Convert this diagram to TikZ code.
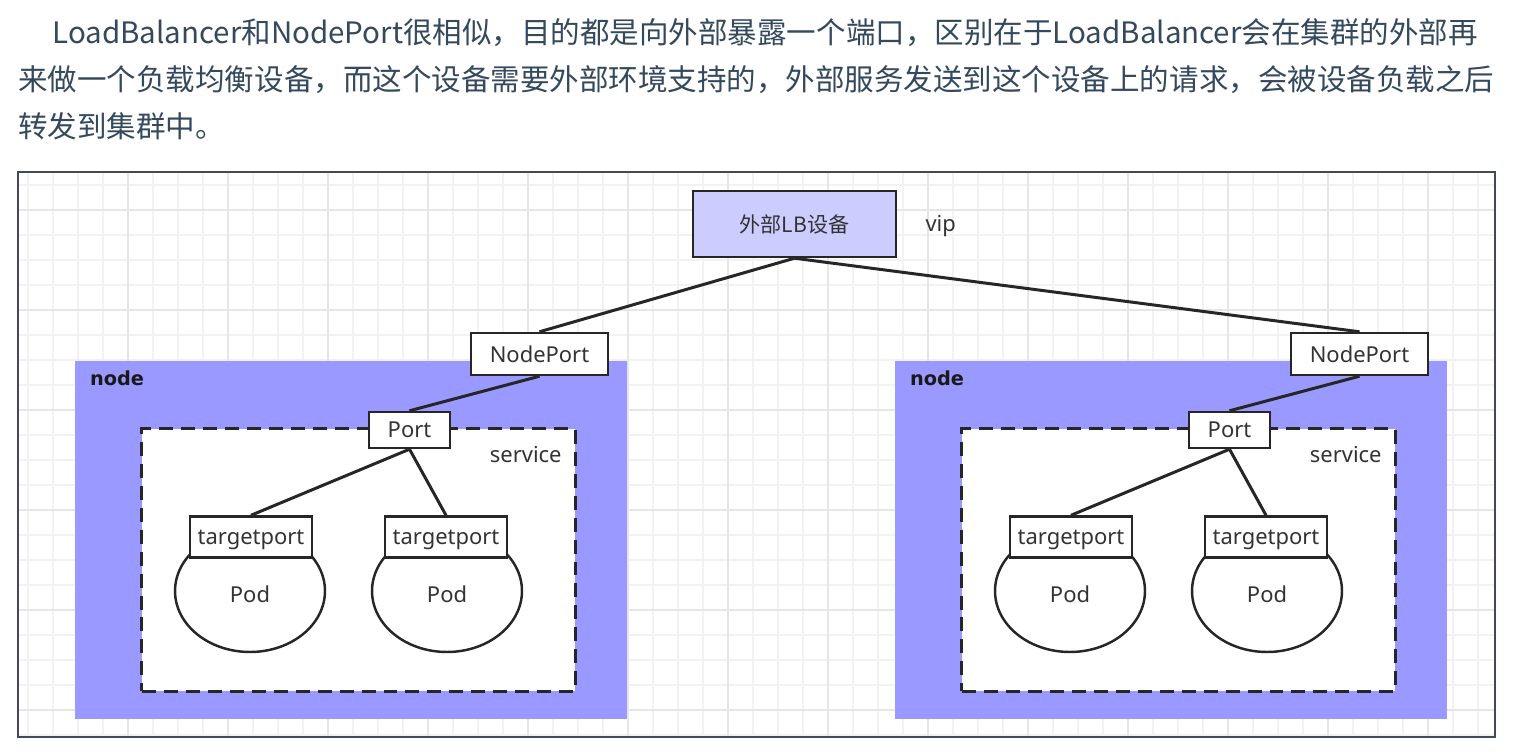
\documentclass[tikz,border=0pt]{standalone}
\usepackage{fontspec}
\setmainfont{Noto Sans}
\newfontfamily\cjk{Noto Sans CJK SC}
\newfontfamily\tagbold{DejaVu Sans}
\usepackage{xcolor}
\usetikzlibrary{positioning,shapes.geometric}
\definecolor{nodeblue}{HTML}{9999FF}
\definecolor{lbfill}{HTML}{CCCCFF}
\definecolor{frameline}{HTML}{3F4A5A}
\definecolor{paratext}{HTML}{34495E}
\definecolor{gridminor}{HTML}{F2F2F2}
\definecolor{gridmajor}{HTML}{E6E6E6}
\newcommand{\lblfont}{\fontsize{12.5pt}{15pt}\selectfont}

\begin{document}
\begin{tikzpicture}[
    x=0.02cm, y=-0.02cm,
    para/.style={anchor=base west, inner sep=0pt, text=paratext, font=\cjk\fontsize{16.8pt}{20pt}\selectfont},
    box/.style={rectangle, draw=black!85, line width=1.4pt, fill=white, inner sep=0pt, text=black!80, font=\lblfont},
    tpbox/.style={box, minimum width=2.44cm, minimum height=0.82cm, text height=0.8em, text depth=0pt},
    nodearea/.style={rectangle, fill=nodeblue, inner sep=0pt, minimum width=11.04cm, minimum height=7.16cm},
    svcarea/.style={rectangle, draw=black!85, fill=white, line width=1.7pt, dash pattern=on 0.28cm off 0.16cm, inner sep=0pt, minimum width=8.68cm, minimum height=5.26cm},
    pod/.style={ellipse, draw=black!85, line width=1.4pt, fill=white, inner sep=0pt, minimum width=3cm, minimum height=2.44cm, text=black!80, font=\lblfont, text height=1.3em, text depth=0pt},
    tag/.style={inner sep=0pt, text=black!80, font=\lblfont},
    nodetag/.style={inner sep=0pt, text=black!90, font=\tagbold\fontsize{11pt}{13pt}\selectfont\bfseries},
    link/.style={draw=black!85, line width=1.7pt},
    gridline/.style={gridminor, line width=0.6pt}
]
\path[fill=white, use as bounding box] (0,0) rectangle (1521,753);

% Text above
\node[para] (line1) at (52,44) {LoadBalancer和NodePort很相似，目的都是向外部暴露一个端口，区别在于LoadBalancer会在集群的外部再};
\node[para] (line2) at (18,91) {来做一个负载均衡设备，而这个设备需要外部环境支持的，外部服务发送到这个设备上的请求，会被设备负载之后};
\node[para] (line3) at (18,138) {转发到集群中。};

% Grid and frame
\foreach \gx in {28,53,...,1478} \draw[gridline] (\gx,173) -- (\gx,736);
\foreach \gy in {185,210,...,735} \draw[gridline] (19,\gy) -- (1494,\gy);
\foreach \gx in {128,228,...,1428} \draw[gridline, gridmajor] (\gx,173) -- (\gx,736);
\foreach \gy in {210,310,...,710} \draw[gridline, gridmajor] (19,\gy) -- (1494,\gy);
\draw[frameline, line width=1.1pt] (18,172) rectangle (1495,737);

% Load balancer
\node[box, fill=lbfill, minimum width=4.06cm, minimum height=1.32cm, font=\cjk\fontsize{12pt}{14pt}\selectfont] (lb) at (794.5,224) {外部LB设备};
\node[tag, right=0.56cm of lb, yshift=-0.05cm] (vip) {vip};

% Left node
\node[nodearea] (nodeL) at (351,540) {};
\node[nodetag, below right=0.2cm and 0.3cm of nodeL.north west] (nodeLtag) {node};
\node[svcarea] (svcL) at (358.5,560) {};
\node[tag, below left=0.38cm and 0.3cm of svcL.north east] (svcLtag) {service};
\node[pod] (podL1) at (250,591) {Pod};
\node[pod] (podL2) at (447,591) {Pod};
\node[tpbox] (tpL1) at (251,537) {targetport};
\node[tpbox] (tpL2) at (446,537) {targetport};
\node[box, minimum width=1.62cm, minimum height=0.72cm] (portL) at (409.5,430) {Port};
\node[box, minimum width=2.74cm, minimum height=0.84cm] (npL) at (539.5,354) {NodePort};

% Right node
\node[nodearea] (nodeR) at (1171,540) {};
\node[nodetag, below right=0.2cm and 0.3cm of nodeR.north west] (nodeRtag) {node};
\node[svcarea] (svcR) at (1178.5,560) {};
\node[tag, below left=0.38cm and 0.3cm of svcR.north east] (svcRtag) {service};
\node[pod] (podR1) at (1070,591) {Pod};
\node[pod] (podR2) at (1267,591) {Pod};
\node[tpbox] (tpR1) at (1071,537) {targetport};
\node[tpbox] (tpR2) at (1266,537) {targetport};
\node[box, minimum width=1.62cm, minimum height=0.72cm] (portR) at (1229.5,430) {Port};
\node[box, minimum width=2.74cm, minimum height=0.84cm] (npR) at (1359.5,354) {NodePort};

% Links
\draw[link] (lb.south) -- (npL.north);
\draw[link] (lb.south) -- (npR.north);
\draw[link] (npL.south) -- (portL.north);
\draw[link] (portL.south) -- (tpL1.north);
\draw[link] (portL.south) -- (tpL2.north);
\draw[link] (npR.south) -- (portR.north);
\draw[link] (portR.south) -- (tpR1.north);
\draw[link] (portR.south) -- (tpR2.north);

\end{tikzpicture}
\end{document}
